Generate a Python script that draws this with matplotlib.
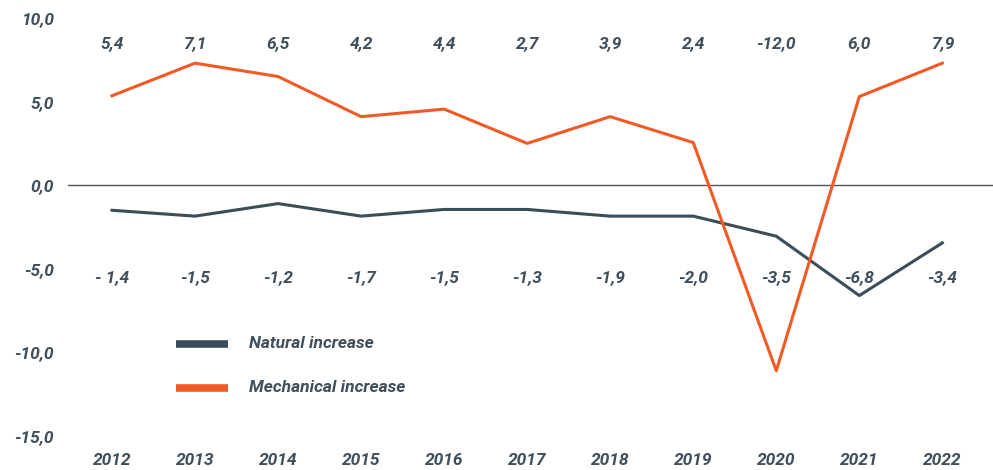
import matplotlib
matplotlib.use("Agg")
import matplotlib.pyplot as plt
from matplotlib.lines import Line2D

years = [2012, 2013, 2014, 2015, 2016, 2017, 2018, 2019, 2020, 2021, 2022]
natural = [-1.5, -1.85, -1.1, -1.85, -1.45, -1.45, -1.85, -1.85, -3.05, -6.6, -3.45]
mechanical = [5.35, 7.3, 6.5, 4.1, 4.55, 2.5, 4.1, 2.55, -11.1, 5.3, 7.3]
natural_labels = ["- 1,4", "-1,5", "-1,2", "-1,7", "-1,5", "-1,3", "-1,9", "-2,0", "-3,5", "-6,8", "-3,4"]
mechanical_labels = ["5,4", "7,1", "6,5", "4,2", "4,4", "2,7", "3,9", "2,4", "-12,0", "6,0", "7,9"]
yticks = [10, 5, 0, -5, -10, -15]
ytick_labels = ["10,0", "5,0", "0,0", "-5,0", "-10,0", "-15,0"]

DARK = "#3b4d59"
ORANGE = "#f15a24"
TXT = "#3f4f5b"
FONT = ["Roboto", "DejaVu Sans"]
plt.rcParams["font.family"] = FONT

fig = plt.figure(figsize=(9.93, 4.70), dpi=100)
ax = fig.add_axes([68/993, 34/470, 1 - 68/993, (436-18)/470])
ax.set_xlim(2011.47, 2022.61)
ax.set_ylim(-15, 10)

ax.axhline(0, color="#555555", lw=1.0, zorder=1)
ax.plot(years, natural, color=DARK, lw=2.2, zorder=3)
ax.plot(years, mechanical, color=ORANGE, lw=2.2, zorder=3)

fs = 12.5
W = "semibold"
for x, t in zip(years, mechanical_labels):
    ax.text(x, 8.45, t, ha="center", va="center", fontsize=fs, style="italic",
            weight=W, color=TXT)
for x, t in zip(years, natural_labels):
    ax.text(x, -5.5, t, ha="center", va="center", fontsize=fs, style="italic",
            weight=W, color=TXT)

ax.set_yticks(yticks)
ax.set_yticklabels(ytick_labels)
ax.set_xticks(years)
ax.set_xticklabels([str(y) for y in years])
for lab in ax.get_yticklabels() + ax.get_xticklabels():
    lab.set_fontsize(fs)
    lab.set_style("italic")
    lab.set_weight(W)
    lab.set_color(TXT)
ax.tick_params(axis="both", length=0)
ax.tick_params(axis="y", pad=10)
ax.tick_params(axis="x", pad=12)
for s in ax.spines.values():
    s.set_visible(False)

# legend
for yy, col, lab in [(344, DARK, "Natural increase"), (388, ORANGE, "Mechanical increase")]:
    fy = 1 - yy / 470
    fig.add_artist(Line2D([176/993, 228/993], [fy, fy], color=col, lw=5.5,
                          solid_capstyle="butt"))
    fig.text(249/993, fy, lab, ha="left", va="center", fontsize=fs, style="italic",
             weight=W, color=TXT)

fig.savefig("out.png", dpi=100)
